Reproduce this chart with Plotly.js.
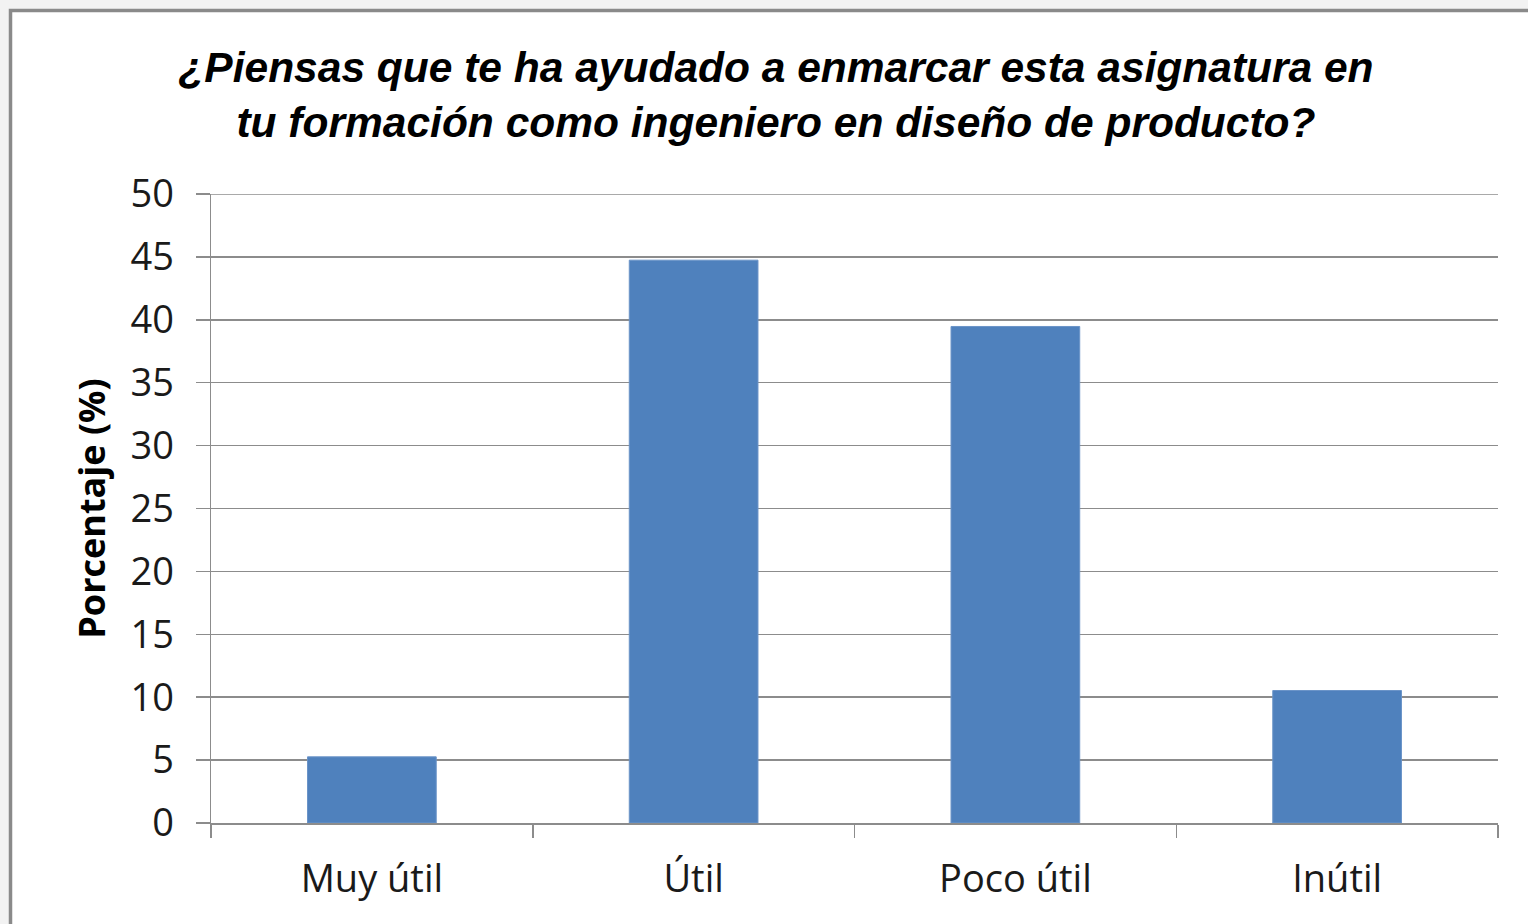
<!DOCTYPE html>
<html>
<head>
<meta charset="utf-8">
<script src="https://cdn.plot.ly/plotly-3.0.1.min.js"></script>
<style>html,body{margin:0;padding:0;background:#f2f2f2;}#chart{width:1528px;height:924px;}</style>
</head>
<body>
<div id="chart"></div>
<script>
const categories = ["Muy útil", "Útil", "Poco útil", "Inútil"];
const percentages = [5.26, 44.74, 39.47, 10.53];
const yTicks = [0, 5, 10, 15, 20, 25, 30, 35, 40, 45, 50];
const chartTitle = "¿Piensas que te ha ayudado a enmarcar esta asignatura en<br>tu formación como ingeniero en diseño de producto?";
const yTitle = "Porcentaje (%)";

const W = 1528, H = 924;
const mL = 211, mR = 30, mT = 194, mB = 101;
const pw = W - mL - mR, ph = H - mT - mB;
const px = p => (p - mL) / pw;
const py = p => (H - mB - p) / ph;

const grid = '#8c8c8c';

const trace = {
  type: 'bar',
  x: categories,
  y: percentages,
  marker: {color: '#4f81bd', line: {color: '#6a94c8', width: 1}},
  hoverinfo: 'x+y'
};

const layout = {
  width: W, height: H,
  margin: {l: mL, r: mR, t: mT, b: mB, pad: 0},
  paper_bgcolor: '#f2f2f2',
  plot_bgcolor: 'rgba(0,0,0,0)',
  showlegend: false,
  bargap: 0.6,
  title: {
    text: chartTitle,
    x: 776 / W, xref: 'container', xanchor: 'center',
    y: 1 - 82 / H, yref: 'container', yanchor: 'middle',
    font: {family: 'Liberation Sans, Arial, sans-serif', size: 42.5, weight: 'bold', style: 'italic', color: '#000'}
  },
  xaxis: {
    type: 'category',
    tickson: 'boundaries',
    ticks: 'outside', ticklen: 13, tickwidth: 1.5, tickcolor: grid,
    showline: true, linecolor: grid, linewidth: 1.5,
    showgrid: false,
    tickfont: {family: 'Open Sans, sans-serif', size: 38, color: '#1a1a1a'},
    ticklabelstandoff: 22,
    fixedrange: true
  },
  yaxis: {
    range: [0, 50],
    tickvals: yTicks,
    ticktext: yTicks.map(String),
    ticks: 'outside', ticklen: 14, tickwidth: 1.5, tickcolor: grid,
    showline: true, linecolor: grid, linewidth: 1.5,
    showgrid: true, gridcolor: grid, gridwidth: 1.5,
    zeroline: false,
    tickfont: {family: 'Open Sans, sans-serif', size: 38, color: '#1a1a1a'},
    ticklabelstandoff: 14,
    title: {text: yTitle, standoff: 14, font: {family: 'Open Sans, sans-serif', size: 36, weight: 'bold', color: '#000'}},
    fixedrange: true
  },
  shapes: [{
    type: 'rect', xref: 'paper', yref: 'paper', layer: 'below',
    x0: px(10.5), x1: px(1545), y0: py(935), y1: py(10.5),
    fillcolor: '#ffffff', line: {color: '#8a8a8a', width: 3.5}
  }, {
    type: 'line', xref: 'paper', yref: 'y', layer: 'below',
    x0: 0, x1: 1, y0: yTicks[yTicks.length - 1], y1: yTicks[yTicks.length - 1],
    line: {color: grid, width: 1.5}
  }]
};

Plotly.newPlot('chart', [trace], layout, {displayModeBar: false, staticPlot: true});
</script>
</body>
</html>
